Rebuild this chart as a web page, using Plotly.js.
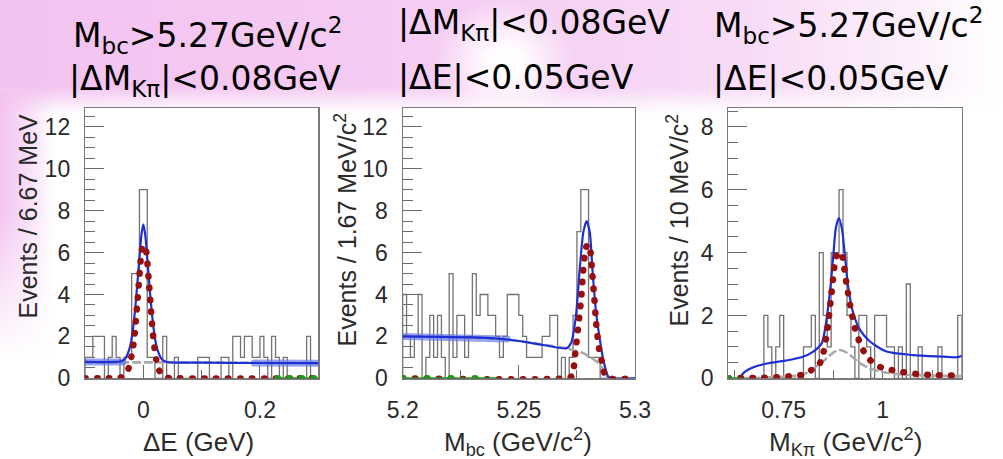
<!DOCTYPE html>
<html>
<head>
<meta charset="utf-8">
<script src="https://cdn.plot.ly/plotly-3.0.1.min.js"></script>
<style>
  html, body { margin: 0; padding: 0; background: #fff; }
  #wrap { position: relative; width: 1003px; height: 459px; overflow: hidden; background: #fff; }
  .bg { position: absolute; }
  #band {
    left: 0; top: 0; width: 1003px; height: 114px;
    background: linear-gradient(to right, #f3c3f0 0%, #f5c9f2 30%, #f6d1f4 55%, #f8dcf7 75%, #fcf0fb 92%, #ffffff 100%);
    -webkit-mask-image: linear-gradient(to bottom, #000 76%, transparent 100%);
    mask-image: linear-gradient(to bottom, #000 76%, transparent 100%);
  }
  #strip {
    left: 0; top: 90px; width: 55px; height: 270px;
    background: linear-gradient(to right, #f3c3f0 0%, rgba(243,195,240,0.55) 50%, rgba(243,195,240,0) 100%);
    -webkit-mask-image: linear-gradient(to bottom, #000 45%, transparent 100%);
    mask-image: linear-gradient(to bottom, #000 45%, transparent 100%);
  }
  #blob {
    left: 420px; top: 0; width: 170px; height: 112px;
    background: radial-gradient(ellipse 70px 62px at 85px 62px, rgba(255,255,255,0.95) 25%, rgba(255,255,255,0) 100%);
  }
  #plot { position: absolute; left: 0; top: 0; width: 1003px; height: 459px; }
  .cartesianlayer .plot { clip-path: none !important; }
  .js-line { stroke-linecap: round; }
</style>
</head>
<body>
<div id="wrap">
  <div class="bg" id="band"></div>
  <div class="bg" id="strip"></div>
  <div class="bg" id="blob"></div>
  <div id="plot"></div>
</div>
<script>
// ---------------- ΔE projection ----------------
const dE_lo = -0.1;
const dE_binw = 0.4 / 60;
const dE_counts = [1, 1, 2, 2, 2, 0, 1, 2, 1, 0,
                   1, 1, 5, 5, 9, 9, 1, 1, 0, 0,
                   2, 0, 0, 1, 0, 0, 0, 0, 0, 1,
                   1, 1, 0, 0, 0, 1, 1, 0, 2, 2,
                   1, 2, 2, 1, 1, 2, 1, 0, 2, 1,
                   0, 1, 0, 0, 0, 0, 0, 2, 0, 0];
const dE_totX = [-0.1, -0.05, -0.04, -0.032, -0.027, -0.022, -0.018, -0.014, -0.01, -0.006, -0.003, 0, 0.003, 0.006, 0.01, 0.014, 0.018, 0.022, 0.027, 0.032, 0.04, 0.1, 0.2, 0.3];
const dE_totY = [0.78, 0.78, 0.8, 0.9, 1.15, 1.6, 2.3, 3.3, 4.6, 6.0, 6.9, 7.35, 6.9, 6.0, 4.6, 3.3, 2.3, 1.6, 1.15, 0.9, 0.78, 0.75, 0.73, 0.72];
const dE_sigX = [-0.1, -0.06, -0.04, -0.03, -0.025, -0.02, -0.016, -0.013, -0.01, -0.007, -0.004, -0.002, 0.001, 0.004, 0.006, 0.009, 0.012, 0.015, 0.018, 0.022, 0.026, 0.032, 0.04, 0.06, 0.3];
const dE_sigY = [0, 0, 0.02, 0.2, 0.5, 1.1, 1.8, 2.7, 3.7, 4.8, 5.8, 6.2, 6.35, 6.2, 5.8, 4.8, 3.7, 2.6, 1.7, 0.9, 0.45, 0.15, 0.03, 0, 0];
const dE_bkgX = [-0.1, 0.0, 0.1, 0.2, 0.3];
const dE_bkgY = [0.76, 0.76, 0.75, 0.74, 0.73];
const dE_bandX = [-0.1, -0.035, null, 0.19, 0.3];
const dE_bandY = [0.78, 0.78, null, 0.73, 0.72];
const dE_grnX = [0.23, 0.3];
const dE_grnY = [0, 0];

// ---------------- Mbc projection ----------------
const mbc_lo = 5.2;
const mbc_binw = 0.1 / 60;
const mbc_counts = [4, 2, 1, 2, 4, 0, 1, 3, 1, 3,
                    1, 0, 5, 1, 3, 3, 1, 2, 5, 3,
                    4, 4, 3, 3, 2, 1, 2, 4, 4, 4,
                    3, 2, 1, 1, 1, 1, 2, 2, 3, 3,
                    0, 1, 0, 1, 3, 7, 9, 9, 1, 1,
                    1, 0, 0, 0, 0, 0, 0, 0, 0, 0];
const mbc_totX = [5.2, 5.215, 5.23, 5.24, 5.25, 5.26, 5.2705, 5.2725, 5.2745, 5.2762, 5.2778, 5.2792, 5.2805, 5.2818, 5.2832, 5.2848, 5.2865, 5.2885, 5.29, 5.3];
const mbc_totY = [2.0, 1.98, 1.95, 1.9, 1.78, 1.6, 1.43, 1.7, 2.9, 5.2, 7.0, 7.5, 7.0, 5.0, 3.2, 1.9, 0.8, 0.08, 0, 0];
const mbc_sigX = [5.2, 5.27, 5.2728, 5.2735, 5.2742, 5.2756, 5.2768, 5.2776, 5.2788, 5.2797, 5.2806, 5.2816, 5.2825, 5.2833, 5.2846, 5.2857, 5.2868, 5.289, 5.3];
const mbc_sigY = [0, 0, 0.1, 0.4, 1.1, 2.5, 3.8, 5.0, 6.2, 6.4, 6.2, 5.0, 3.8, 2.6, 1.35, 0.8, 0.25, 0, 0];
const mbc_bkgX = [5.2, 5.24, 5.26, 5.2705, 5.2777, 5.2835, 5.2865, 5.2885, 5.3];
const mbc_bkgY = [2.0, 1.9, 1.62, 1.43, 1.2, 0.8, 0.4, 0, 0];
const mbc_bandX = [5.2, 5.22, 5.245];
const mbc_bandY = [2.0, 1.97, 1.88];
const mbc_grnX = [5.2, 5.24];
const mbc_grnY = [0, 0];

// ---------------- M(Kπ) projection ----------------
const mkp_lo = 0.61;
const mkp_binw = 0.01;
const mkp_counts = [0, 0, 0, 0, 0, 0, 0, 0, 0, 2,
                    1, 0, 1, 2, 0, 0, 0, 0, 0, 1,
                    1, 2, 0, 4, 2, 1, 4, 4, 6, 4,
                    2, 1, 0, 2, 2, 1, 0, 2, 2, 2,
                    1, 1, 0, 1, 0, 3, 0, 0, 1, 0,
                    0, 0, 0, 1, 0, 0, 0, 0, 2];
const mkp_totX = [0.64, 0.652, 0.677, 0.711, 0.753, 0.795, 0.825, 0.846, 0.855, 0.8625, 0.869, 0.876, 0.882, 0.8896, 0.898, 0.905, 0.913, 0.926, 0.943, 0.968, 1.01, 1.077, 1.153, 1.187, 1.2];
const mkp_totY = [0.03, 0.21, 0.37, 0.48, 0.56, 0.67, 0.85, 1.11, 1.6, 2.28, 3.0, 4.0, 4.8, 5.1, 4.7, 3.87, 2.91, 2.07, 1.54, 1.17, 0.85, 0.74, 0.69, 0.67, 0.71];
const mkp_sigX = [0.61, 0.7, 0.75, 0.8, 0.82, 0.84, 0.85, 0.86, 0.87, 0.88, 0.887, 0.895, 0.902, 0.91, 0.92, 0.93, 0.945, 0.96, 0.98, 1.0, 1.05, 1.1, 1.2];
const mkp_sigY = [0, 0.02, 0.05, 0.12, 0.26, 0.45, 0.8, 1.5, 2.6, 3.7, 4.0, 4.0, 3.6, 2.9, 2.2, 1.6, 1.05, 0.7, 0.45, 0.33, 0.2, 0.12, 0.08];
const mkp_bkgX = [0.61, 0.7, 0.75, 0.8, 0.84, 0.86, 0.875, 0.89, 0.905, 0.92, 0.94, 0.97, 1.0, 1.05, 1.2];
const mkp_bkgY = [0, 0.02, 0.05, 0.12, 0.45, 0.65, 0.82, 0.9, 0.85, 0.72, 0.5, 0.3, 0.2, 0.12, 0.07];
const mkp_grnX = [0.61, 0.64];
const mkp_grnY = [0, 0];

// ---------------- text ----------------
const cutText = [
  ["M<sub>bc</sub>&gt;5.27GeV/c<sup>2</sup>", "|ΔM<sub>Kπ</sub>|&lt;0.08GeV"],
  ["|ΔM<sub>Kπ</sub>|&lt;0.08GeV", "|ΔE|&lt;0.05GeV"],
  ["M<sub>bc</sub>&gt;5.27GeV/c<sup>2</sup>", "|ΔE|&lt;0.05GeV"]
];
const yTitles = ["Events / 6.67 MeV", "Events / 1.67 MeV/c<sup>2</sup>", "Events / 10 MeV/c<sup>2</sup>"];
const xTitles = ["ΔE (GeV)", "M<sub>bc</sub> (GeV/c<sup>2</sup>)", "M<sub>Kπ</sub> (GeV/c<sup>2</sup>)"];

// ---------------- drawing ----------------
const W = 1003, H = 459;
const px = v => v / W;
const py = v => 1 - v / H;

function stepHist(lo, w, counts) {
  const xs = [lo], ys = [0];
  counts.forEach((c, i) => { xs.push(lo + i * w); ys.push(c); });
  xs.push(lo + counts.length * w); ys.push(counts[counts.length - 1]);
  xs.push(lo + counts.length * w); ys.push(0);
  return { xs, ys };
}

const HIST = '#727272', BLUE = '#1f2fd6', RED = '#961010', GREEN = '#1b9a1b', GRAY = '#a9a9a9';
const DOTS = '0.5px,11.5px';

function panelTraces(ax, lo, w, counts, totX, totY, sigX, sigY, bkgX, bkgY, bandX, bandY, grnX, grnY, grnDash) {
  const xa = 'x' + ax, ya = 'y' + ax;
  const h = stepHist(lo, w, counts);
  const t = [];
  t.push({ x: h.xs, y: h.ys, xaxis: xa, yaxis: ya, mode: 'lines', line: { shape: 'hv', color: HIST, width: 1.3 } });
  t.push({ x: bkgX, y: bkgY, xaxis: xa, yaxis: ya, mode: 'lines', line: { shape: 'spline', smoothing: 0.6, color: GRAY, width: 2.6, dash: '7px,5px' } });
  if (bandX) t.push({ x: bandX, y: bandY, xaxis: xa, yaxis: ya, mode: 'lines', connectgaps: false, line: { color: 'rgba(95,115,230,0.65)', width: 7 } });
  t.push({ x: totX, y: totY, xaxis: xa, yaxis: ya, mode: 'lines', line: { shape: 'spline', smoothing: 0.7, color: BLUE, width: 2.2 } });
  t.push({ x: sigX, y: sigY, xaxis: xa, yaxis: ya, mode: 'lines', line: { shape: 'spline', smoothing: 0.7, color: RED, width: 6.5, dash: DOTS } });
  t.push({ x: grnX, y: grnY, xaxis: xa, yaxis: ya, mode: 'lines', line: { color: GREEN, width: 2.2 } });
  t.push({ x: grnX, y: grnY, xaxis: xa, yaxis: ya, mode: 'lines', line: { color: GREEN, width: 6.5, dash: grnDash } });
  return t;
}

const data = [].concat(
  panelTraces('', dE_lo, dE_binw, dE_counts, dE_totX, dE_totY, dE_sigX, dE_sigY, dE_bkgX, dE_bkgY, dE_bandX, dE_bandY, dE_grnX, dE_grnY, DOTS),
  panelTraces('2', mbc_lo, mbc_binw, mbc_counts, mbc_totX, mbc_totY, mbc_sigX, mbc_sigY, mbc_bkgX, mbc_bkgY, mbc_bandX, mbc_bandY, mbc_grnX, mbc_grnY, '0.5px,23.5px'),
  panelTraces('3', mkp_lo, mkp_binw, mkp_counts, mkp_totX, mkp_totY, mkp_sigX, mkp_sigY, mkp_bkgX, mkp_bkgY, null, null, mkp_grnX, mkp_grnY, DOTS)
);

const TICKFONT = { family: 'Liberation Sans, Arial, sans-serif', size: 23, color: '#2b2b2b' };
function xAxis(dom, range, dtick, tick0, minorDtick) {
  return {
    domain: dom, range: range, showline: true, mirror: true, linecolor: '#7a7a7a', linewidth: 1.2,
    showgrid: false, zeroline: false, ticks: 'inside', ticklen: 13, tickcolor: '#6a6a6a', tickwidth: 1,
    tickmode: 'linear', tick0: tick0, dtick: dtick, tickfont: TICKFONT, ticklabelstandoff: 11,
    minor: { dtick: minorDtick, tick0: tick0, ticks: 'inside', ticklen: 8, tickcolor: '#6a6a6a' },
    layer: 'below traces', fixedrange: true
  };
}
function yAxis(anchor, range) {
  return {
    domain: [py(378.3), py(108)], range: range, anchor: anchor, showline: true, mirror: true,
    linecolor: '#7a7a7a', linewidth: 1.2, showgrid: false, zeroline: false,
    ticks: 'inside', ticklen: 19, tickcolor: '#6a6a6a', tickwidth: 1, tickmode: 'linear', tick0: 0, dtick: 2,
    tickfont: TICKFONT, ticklabelstandoff: 9,
    minor: { dtick: 0.5, ticks: 'inside', ticklen: 10, tickcolor: '#6a6a6a' },
    layer: 'below traces', fixedrange: true
  };
}

const annotations = [];
const TITLEFONT = { family: 'DejaVu Sans, sans-serif', size: 33, color: '#000' };
const titlePos = [[71, 35, 67, 80], [396, 24, 396, 77], [712, 26, 711, 79]];
cutText.forEach((lines, i) => {
  const p = titlePos[i];
  annotations.push({ text: lines[0], xref: 'paper', yref: 'paper', x: px(p[0]), y: py(p[1]), xanchor: 'left', yanchor: 'middle', showarrow: false, font: TITLEFONT });
  annotations.push({ text: lines[1], xref: 'paper', yref: 'paper', x: px(p[2]), y: py(p[3]), xanchor: 'left', yanchor: 'middle', showarrow: false, font: TITLEFONT });
});
const AXFONT = { family: 'Liberation Sans, Arial, sans-serif', size: 25, color: '#2b2b2b' };
const yTitleX = [28, 346, 678];
yTitles.forEach((t, i) => {
  annotations.push({ text: t, textangle: -90, xref: 'paper', yref: 'paper', x: px(yTitleX[i]), y: py(112), xanchor: 'center', yanchor: 'top', showarrow: false, font: AXFONT });
});
const xTitleX = [198, 518, 845];
xTitles.forEach((t, i) => {
  annotations.push({ text: t, xref: 'paper', yref: 'paper', x: px(xTitleX[i]), y: py(442), xanchor: 'center', yanchor: 'middle', showarrow: false, font: { family: AXFONT.family, size: 26, color: AXFONT.color } });
});

const layout = {
  width: W, height: H, autosize: false, showlegend: false,
  margin: { l: 0, r: 0, t: 0, b: 0, pad: 0 },
  paper_bgcolor: 'rgba(0,0,0,0)', plot_bgcolor: '#ffffff',
  xaxis: Object.assign(xAxis([px(85), px(318.3)], [-0.1, 0.3], 0.2, 0, 0.1), { anchor: 'y' }),
  yaxis: yAxis('x', [0, 12.9]),
  xaxis2: Object.assign(xAxis([px(402.7), px(635)], [5.2, 5.3], 0.05, 5.2, 0.025), { anchor: 'y2' }),
  yaxis2: yAxis('x2', [0, 12.9]),
  xaxis3: Object.assign(xAxis([px(728.3), px(961.7)], [0.61, 1.2], 0.25, 0, 0.125), { anchor: 'y3' }),
  yaxis3: yAxis('x3', [0, 8.6]),
  annotations: annotations
};

Plotly.newPlot('plot', data, layout, { displayModeBar: false, staticPlot: true });
</script>
</body>
</html>
